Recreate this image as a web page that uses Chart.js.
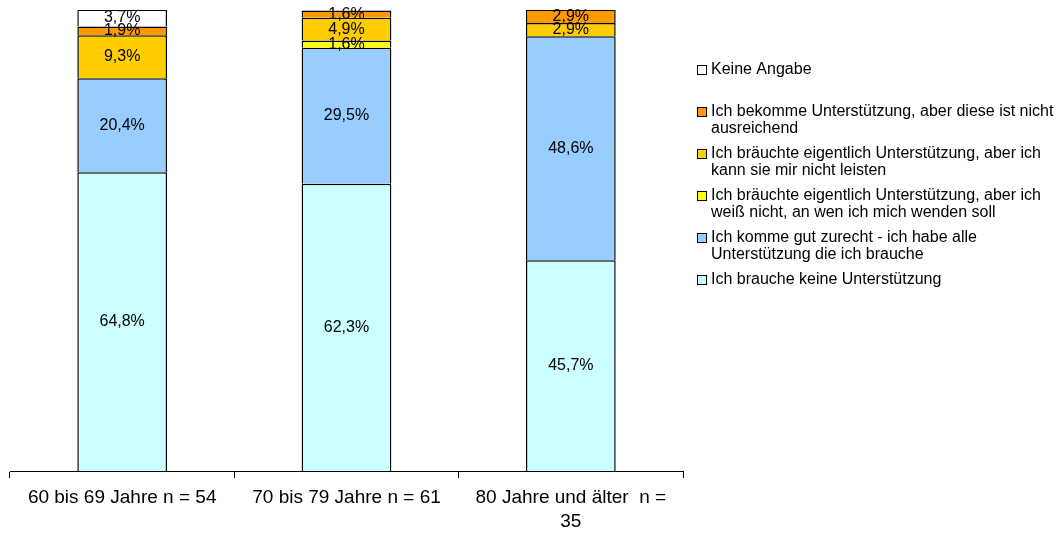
<!DOCTYPE html>
<html>
<head>
<meta charset="utf-8">
<script src="https://cdn.jsdelivr.net/npm/chart.js@4/dist/chart.umd.min.js"></script>
<style>
  html, body { margin: 0; padding: 0; background: #fff; }
  #wrap { width: 1063px; height: 533px; }
</style>
</head>
<body>
<div id="wrap"><canvas id="chart"></canvas></div>
<script>
// Kategorien (Altersgruppen)
const categories = [
  "60 bis 69 Jahre n = 54",
  "70 bis 79 Jahre n = 61",
  ["80 Jahre und älter  n =", "35"]
];

// Werte in Prozent, von unten nach oben gestapelt
const keineUnterstuetzung = [64.8, 62.3, 45.7];
const kommeGutZurecht = [20.4, 29.5, 48.6];
const weissNichtAnWen = [0, 1.6, 0];
const kannNichtLeisten = [9.3, 4.9, 2.9];
const nichtAusreichend = [1.9, 1.6, 2.9];
const keineAngabe = [3.7, 0, 0];

const seriesNames = [
  ["Ich brauche keine Unterstützung"],
  ["Ich komme gut zurecht - ich habe alle", "Unterstützung die ich brauche"],
  ["Ich bräuchte eigentlich Unterstützung, aber ich", "weiß nicht, an wen ich mich wenden soll"],
  ["Ich bräuchte eigentlich Unterstützung, aber ich", "kann sie mir nicht leisten"],
  ["Ich bekomme Unterstützung, aber diese ist nicht", "ausreichend"],
  ["Keine Angabe"]
];
const seriesColors = ["#CCFFFF", "#99CCFF", "#FFFF00", "#FFCC00", "#FF9900", "#FFFFFF"];
const seriesValues = [keineUnterstuetzung, kommeGutZurecht, weissNichtAnWen, kannNichtLeisten, nichtAusreichend, keineAngabe];

const FONT = "'Liberation Sans', Arial, sans-serif";

// Prozentwerte in die Balken schreiben
const valueLabels = {
  id: "valueLabels",
  afterDatasetsDraw(chart) {
    const ctx = chart.ctx;
    ctx.save();
    ctx.font = "16px " + FONT;
    ctx.fillStyle = "#000";
    ctx.textAlign = "center";
    ctx.textBaseline = "middle";
    chart.data.datasets.forEach((ds, i) => {
      const meta = chart.getDatasetMeta(i);
      meta.data.forEach((bar, j) => {
        const v = ds.data[j];
        if (!v) return;
        const y = (bar.y + bar.base) / 2;
        ctx.fillText(v.toFixed(1).replace(".", ",") + "%", bar.x, y);
      });
    });
    ctx.restore();
  }
};

// Legende rechts, oberster Stapel zuerst
const sideLegend = {
  id: "sideLegend",
  afterDraw(chart) {
    const ctx = chart.ctx;
    const left = 697, top = 70, pitch = 42, lineH = 17, box = 10;
    ctx.save();
    ctx.font = "16px " + FONT;
    ctx.textBaseline = "middle";
    ctx.textAlign = "left";
    const n = chart.data.datasets.length;
    for (let k = 0; k < n; k++) {
      const ds = chart.data.datasets[n - 1 - k];
      const y = Math.round(top + k * pitch);
      ctx.fillStyle = ds.backgroundColor;
      ctx.fillRect(left, y - box / 2, box, box);
      ctx.strokeStyle = "#000";
      ctx.lineWidth = 1;
      ctx.strokeRect(left + 0.5, y - box / 2 + 0.5, box - 1, box - 1);
      ctx.fillStyle = "#000";
      ds.legendLines.forEach((line, li) => {
        ctx.fillText(line, left + 14, y + li * lineH);
      });
    }
    ctx.restore();
  }
};

const datasets = seriesValues.map((vals, i) => ({
  label: seriesNames[i].join(" "),
  legendLines: seriesNames[i],
  data: vals,
  backgroundColor: seriesColors[i],
  borderColor: "#000",
  borderWidth: 1.5,
  borderSkipped: "bottom",
  barPercentage: 0.4,
  categoryPercentage: 1.0
}));

new Chart(document.getElementById("chart").getContext("2d"), {
  type: "bar",
  data: { labels: categories, datasets: datasets },
  options: {
    responsive: true,
    maintainAspectRatio: false,
    animation: false,
    layout: { padding: { left: 10, top: 10, right: 380, bottom: 0 } },
    plugins: {
      legend: { display: false },
      tooltip: { enabled: false }
    },
    scales: {
      x: {
        stacked: true,
        grid: {
          offset: true,
          drawOnChartArea: false,
          drawTicks: true,
          tickLength: 7,
          color: "#000"
        },
        border: { display: true, color: "#000", width: 1 },
        ticks: {
          color: "#000",
          font: { family: FONT, size: 19, lineHeight: 1.3 },
          padding: 7,
          maxRotation: 0,
          autoSkip: false
        },
        afterFit(scale) { scale.height = 62; }
      },
      y: {
        stacked: true,
        display: false,
        min: 0,
        max: 100
      }
    }
  },
  plugins: [valueLabels, sideLegend]
});
</script>
</body>
</html>
